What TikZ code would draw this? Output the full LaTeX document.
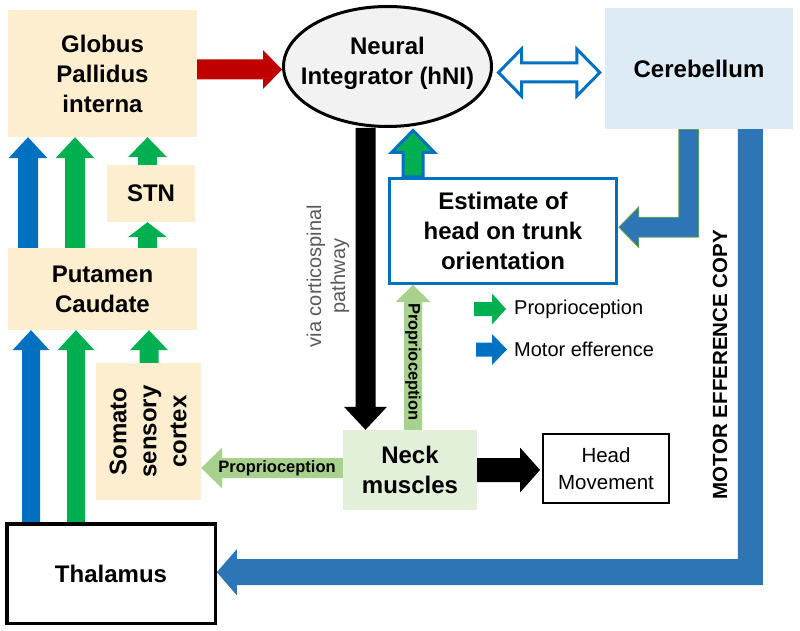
\documentclass[tikz,border=0pt]{standalone}
\usepackage{fontspec}
\setmainfont{Liberation Sans}
\usetikzlibrary{calc,shapes.geometric}
\pgfdeclarelayer{bg}
\pgfsetlayers{bg,main}
\definecolor{beige}{HTML}{FCEECF}
\definecolor{cerb}{HTML}{DDEBF7}
\definecolor{neckg}{HTML}{E2F0D9}
\definecolor{mblue}{HTML}{0070C0}
\definecolor{pgreen}{HTML}{00B050}
\definecolor{lgreen}{HTML}{A9D18E}
\definecolor{sblue}{HTML}{2E75B6}
\definecolor{outg}{HTML}{70AD47}
\definecolor{dred}{HTML}{C00000}
\definecolor{ellg}{HTML}{F2F2F2}
\definecolor{txtgray}{HTML}{595959}
% block arrow: style, start, tip, shaft half width, head half width, head length
\newcommand\blockarr[6]{%
  \coordinate (bac) at ($(#3)!#6!(#2)$);
  \path[#1] ($(#2)!#4!90:(#3)$) -- ($(bac)!#4!90:(#3)$) -- ($(bac)!#5!90:(#3)$) -- (#3)
    -- ($(bac)!#5!-90:(#3)$) -- ($(bac)!#4!-90:(#3)$) -- ($(#2)!#4!-90:(#3)$) -- cycle;}
% double-headed block arrow
\newcommand\dblarr[6]{%
  \coordinate (daa) at ($(#2)!#6!(#3)$);
  \coordinate (dab) at ($(#3)!#6!(#2)$);
  \path[#1] (#2) -- ($(daa)!#5!90:(#3)$) -- ($(daa)!#4!90:(#3)$) -- ($(dab)!#4!90:(#3)$)
    -- ($(dab)!#5!90:(#3)$) -- (#3) -- ($(dab)!#5!-90:(#3)$) -- ($(dab)!#4!-90:(#3)$)
    -- ($(daa)!#4!-90:(#3)$) -- ($(daa)!#5!-90:(#3)$) -- cycle;}
\begin{document}
\begin{tikzpicture}[x=1pt,y=-1pt,
  bf/.style={font=\fontsize{24}{30}\selectfont\bfseries, align=center, inner sep=0},
  bbox/.style={bf, fill=beige},
  small/.style={font=\fontsize{20.5}{27}\selectfont, align=center, inner sep=0},
  plabel/.style={font=\fontsize{16.5}{18}\selectfont\bfseries, inner sep=0}]
\useasboundingbox (0,0) rectangle (800,631);

% ---------- nodes ----------
\node[bbox, minimum width=189, minimum height=127] (gpi) at (102.5,73.5) {Globus\\Pallidus\\interna};
\node[bbox, minimum width=88, minimum height=57] (stn) at (151,193.5) {STN};
\node[bbox, minimum width=189, minimum height=82] (put) at (102.5,289) {Putamen\\Caudate};
\node[fill=beige, inner sep=0, minimum width=105, minimum height=137] (som) at (148.5,431.5) {};
\node[bf, rotate=90] (somt) at (148,431.5) {Somato\\sensory\\cortex};
\node[bf, draw, line width=3.5, fill=white, minimum width=208.5, minimum height=99.5] (thal) at (111,573.5) {Thalamus};
\node[ellipse, draw, line width=3, fill=ellg, minimum width=208, minimum height=120, inner sep=0] (hni) at (387.5,66.5) {};
\node[bf] (hnit) at (387.5,63.5) {Neural\\Integrator (hNI)};
\node[bf, fill=cerb, minimum width=188, minimum height=121] (cer) at (699,68.5) {Cerebellum};
\node[bf, draw=mblue, line width=3, fill=white, minimum width=227, minimum height=105] (est) at (503,231) {Estimate of\\head on trunk\\orientation};
\node[bf, fill=neckg, minimum width=134, minimum height=80] (neck) at (410,470) {Neck\\muscles};
\node[small, draw, line width=2, minimum width=126, minimum height=69] (hm) at (606,468.5) {Head\\Movement};

% legend texts
\node[anchor=west, inner sep=0, font=\fontsize{20}{24}\selectfont] (lg1) at (514,309) {Proprioception};
\node[anchor=west, inner sep=0, font=\fontsize{20}{24}\selectfont] (lg2) at (514,349.5) {Motor efference};

% other labels
\node[rotate=90, align=center, inner sep=0, text=txtgray, font=\fontsize{20}{24}\selectfont] (via) at (328,276) {via corticospinal\\pathway};
\node[rotate=90, inner sep=0, font=\fontsize{20.5}{24}\selectfont\bfseries] (mec) at (720,365) {MOTOR EFFERENCE COPY};

% ---------- connectors ----------
\begin{pgfonlayer}{bg}
\fill[white] (0,0) rectangle (800,631);
\coordinate (c1) at (28,0);
\coordinate (c2) at (75,0);
\coordinate (c3) at (147.5,0);
\coordinate (c4) at (31,0);
\coordinate (c5) at (76,0);
\coordinate (c6) at (149,0);
\blockarr{fill=mblue}{c1 |- put.north}{c1 |- gpi.south}{10pt}{19.5pt}{21pt}
\blockarr{fill=pgreen}{c2 |- put.north}{c2 |- gpi.south}{10pt}{19.5pt}{21pt}
\blockarr{fill=pgreen}{c3 |- put.north}{c3 |- stn.south}{9.5pt}{19.5pt}{15pt}
\blockarr{fill=pgreen}{c3 |- stn.north}{c3 |- gpi.south}{9.5pt}{19.5pt}{20pt}
\blockarr{fill=mblue}{c4 |- thal.north}{c4 |- put.south}{9pt}{18.5pt}{20pt}
\blockarr{fill=pgreen}{c5 |- thal.north}{c5 |- put.south}{9pt}{18.5pt}{20pt}
\blockarr{fill=pgreen}{c6 |- som.north}{c6 |- put.south}{9.5pt}{19pt}{20pt}

% GPi -> hNI
\coordinate (r1) at ($(gpi.east)+(0,-4)$);
\blockarr{fill=dred}{r1}{hni.west |- r1}{10pt}{19.5pt}{19pt}

% hNI <-> Cerebellum
\coordinate (d1) at ($(hni.east)+(5.5,6)$);
\coordinate (d2) at ($(cer.west |- d1)+(-5,0)$);
\dblarr{fill=white, draw=mblue, line width=3}{d1}{d2}{9.5pt}{23.5pt}{23pt}

% hNI -> Neck muscles
\coordinate (b1) at (365.5,0);
\blockarr{fill=black}{b1 |- hni.south}{b1 |- neck.north}{10pt}{21.5pt}{23pt}

% Estimate -> hNI
\coordinate (e1) at (413,0);
\coordinate (e2) at ($(e1 |- hni.south)+(0,2.5)$);
\blockarr{fill=pgreen, draw=mblue, line width=3}{e1 |- est.north}{e2}{10pt}{21.5pt}{22pt}

% Neck -> Estimate (proprioception)
\blockarr{fill=lgreen}{e1 |- neck.north}{e1 |- est.south}{9pt}{17.5pt}{17pt}

% Neck -> Somatosensory cortex
\coordinate (g2) at ($(neck.west)+(0,-2)$);
\blockarr{fill=lgreen}{g2}{som.east |- g2}{10pt}{20.5pt}{21pt}

% Neck -> Head movement
\coordinate (h2) at ($(hm.west |- neck.east)+(-2,0)$);
\blockarr{fill=black}{neck.east}{h2}{12pt}{22.5pt}{20pt}

% legend arrows
\coordinate (l1s) at ($(lg1.west)+(-40,0)$);
\coordinate (l1e) at ($(lg1.west)+(-8,0)$);
\coordinate (l2s) at ($(lg2.west)+(-38,0)$);
\coordinate (l2e) at ($(lg2.west)+(-7,0)$);
\blockarr{fill=pgreen}{l1s}{l1e}{7pt}{15.5pt}{14pt}
\blockarr{fill=mblue}{l2s}{l2e}{7pt}{15.5pt}{15pt}

% Cerebellum -> Estimate (bent)
\path[fill=sblue, draw=outg, line width=0.8] ($(cer.south west)+(74,0)$) -- ++(0,88) -- ++(-40,0)
  -- ++(0,-10.5) -- ++(-20,20.5) -- ++(20,20.5) -- ++(0,-10.5) -- ++(60,0) -- ++(0,-108) -- cycle;

% Motor efference copy: Cerebellum -> Thalamus
\path[fill=sblue] ($(cer.south west)+(133,0)$) -- ++(0,430) -- ++(-501,0) -- ++(0,-10)
  -- ++(-20,23) -- ++(20,23) -- ++(0,-10) -- ++(526,0) -- ++(0,-456) -- cycle;
\end{pgfonlayer}

% arrow labels
\node[plabel, rotate=-90] (pl1) at (413,362) {Proprioception};
\node[plabel] (pl2) at (277,468) {Proprioception};
\end{tikzpicture}
\end{document}
